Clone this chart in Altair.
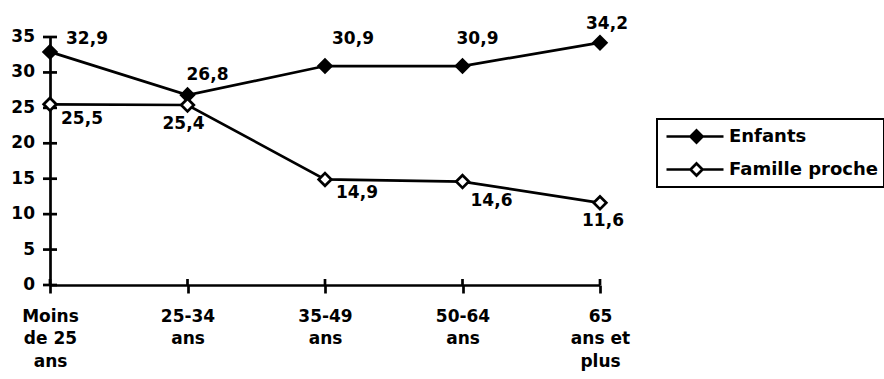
import altair as alt
import pandas as pd

# Age groups (line breaks are used for the multi-line axis labels)
categories = ["Moins\nde 25\nans", "25-34\nans", "35-49\nans", "50-64\nans", "65\nans et\nplus"]
series_names = ["Enfants", "Famille proche"]
enfants = [32.9, 26.8, 30.9, 30.9, 34.2]
famille = [25.5, 25.4, 14.9, 14.6, 11.6]
y_ticks = [0, 5, 10, 15, 20, 25, 30, 35]

# Placement (dx, dy) of each value label relative to its point
label_offsets = {
    "Enfants": [(37, -13), (20, -20), (28, -27), (15, -27), (7, -19)],
    "Famille proche": [(32, 15), (-4, 19), (32, 14), (29, 19), (3, 18)],
}

rows = []
for name, vals in zip(series_names, [enfants, famille]):
    for cat, v in zip(categories, vals):
        rows.append({"category": cat, "series": name, "value": v,
                     "label": f"{v:.1f}".replace(".", ",")})
df = pd.DataFrame(rows)

W, H = 550, 248
FONT = "DejaVu Sans"
LW = 2.7

x_scale = alt.Scale(type="point", padding=0)
y_scale = alt.Scale(domain=[0, 35], nice=False, zero=True)

x_axis = alt.Axis(
    labelAngle=0, labelExpr="split(datum.label, '\\n')",
    labelLineHeight=22.5, labelPadding=15, labelBaseline="top",
    tickSize=8,
)
# The y axis keeps only its line; its ticks and labels are drawn as layers below
y_axis = alt.Axis(labels=False, ticks=False)


def xy():
    return dict(
        x=alt.X("category:N", sort=categories, scale=x_scale, title=None, axis=x_axis),
        y=alt.Y("value:Q", scale=y_scale, title=None, axis=y_axis),
    )


lines = alt.Chart(df).mark_line(color="black", strokeWidth=LW).encode(
    **xy(), detail="series:N"
)

# Legend symbol: a short line with a diamond on it
legend_symbol = "M-0.8,0L1.6,0M2.8,0L4.9,0M2.2,-0.6L2.8,0L2.2,0.6L1.6,0Z"

points = alt.Chart(df).mark_point(
    shape="diamond", filled=True, size=160, stroke="black", strokeWidth=LW, opacity=1
).encode(
    **xy(),
    fill=alt.Fill(
        "series:N",
        scale=alt.Scale(domain=series_names, range=["black", "white"]),
        legend=alt.Legend(
            title=None, orient="none", legendX=607, legendY=82,
            symbolType=legend_symbol, symbolSize=400, symbolStrokeWidth=LW,
            symbolStrokeColor="black", symbolOpacity=1,
            labelFont=FONT, labelFontSize=18, labelFontWeight="bold", labelColor="black",
            labelOffset=43, labelLimit=400, padding=6, rowPadding=10,
            strokeColor="black",
        ),
    ),
)

# Value labels, one layer per point so each keeps its own placement
text_layers = []
for name in series_names:
    sub = df[df["series"] == name].reset_index(drop=True)
    for i, (dx, dy) in enumerate(label_offsets[name]):
        text_layers.append(
            alt.Chart(sub.iloc[[i]]).mark_text(
                font=FONT, fontSize=17, fontWeight="bold", color="black",
                align="center", baseline="middle", dx=dx, dy=dy,
            ).encode(**xy(), text="label:N")
        )

# Y-axis ticks crossing the axis line, and their labels
tick_df = pd.DataFrame({"value": y_ticks})
y_tick_marks = alt.Chart(tick_df).mark_rule(color="black", strokeWidth=LW).encode(
    y=alt.Y("value:Q", scale=y_scale, title=None, axis=y_axis),
    x=alt.value(-7), x2=alt.value(7),
)
y_tick_labels = alt.Chart(tick_df).mark_text(
    font=FONT, fontSize=17, fontWeight="bold", color="black",
    align="right", baseline="middle",
).encode(
    y=alt.Y("value:Q", scale=y_scale, title=None, axis=y_axis),
    x=alt.value(-15),
    text=alt.Text("value:Q", format="d"),
)

# Inner halves of the x-axis ticks, so they cross the axis line
cat_df = pd.DataFrame({"category": categories})
x_inner = alt.Chart(cat_df).mark_rule(color="black", strokeWidth=LW).encode(
    x=alt.X("category:N", sort=categories, scale=x_scale, title=None, axis=x_axis),
    y=alt.value(H - 6), y2=alt.value(H),
)

chart = alt.layer(
    lines, y_tick_marks, y_tick_labels, x_inner, points, *text_layers
).properties(
    width=W, height=H,
    padding={"left": 50, "top": 37, "right": 284, "bottom": 94},
    autosize=alt.AutoSizeParams(type="none"),
    background="white",
).configure_view(
    stroke=None
).configure_axis(
    labelFont=FONT, labelFontSize=17, labelFontWeight="bold", labelColor="black",
    labelOverlap=False, labelFlush=False, labelBound=False,
    domainColor="black", domainWidth=LW, tickColor="black", tickWidth=LW,
    grid=False,
).configure_legend(strokeWidth=2)

chart.save("out.html", embed_options={"renderer": "svg", "actions": False})
